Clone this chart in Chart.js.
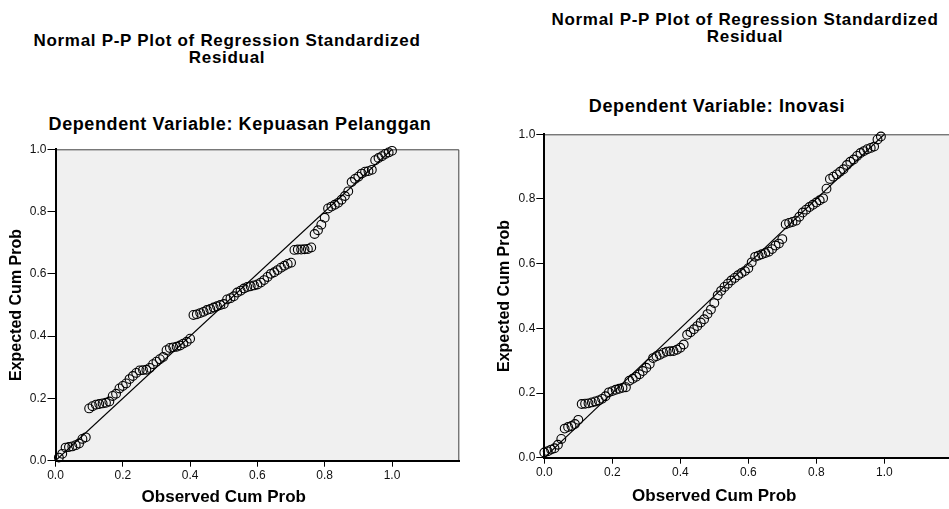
<!DOCTYPE html>
<html>
<head>
<meta charset="utf-8">
<script src="https://cdn.jsdelivr.net/npm/chart.js@4"></script>
<style>
  html, body { margin: 0; padding: 0; background: #fff; overflow: hidden; }
  body { width: 949px; height: 509px; position: relative; font-family: Arial, "Liberation Sans", sans-serif; }
  .title, .subtitle { position: absolute; text-align: center; font-weight: bold; color: #000; white-space: nowrap; }
  .title { font-size: 17px; line-height: 17px; letter-spacing: 0.7px; width: 460px; }
  .subtitle { font-size: 18px; line-height: 18px; letter-spacing: 0.6px; width: 460px; }
  canvas { position: absolute; top: 0; }
</style>
</head>
<body>
<div class="title" style="left:-3px; top:31.5px;">Normal P-P Plot of Regression Standardized<br>Residual</div>
<div class="subtitle" style="left:10px; top:115px;">Dependent Variable: Kepuasan Pelanggan</div>
<div class="title" style="left:515px; top:10.5px;">Normal P-P Plot of Regression Standardized<br>Residual</div>
<div class="subtitle" style="left:487px; top:97px;">Dependent Variable: Inovasi</div>

<canvas id="ppLeft" width="475" height="509" style="left:0px;"></canvas>
<canvas id="ppRight" width="490" height="509" style="left:475px;"></canvas>

<script>
// tick labels on both axes
const tickValues = [0, 0.2, 0.4, 0.6, 0.8, 1.0];

// Kepuasan Pelanggan : observed cum prob (x) / expected cum prob (y)
const obsLeft = [0.01, 0.02, 0.03, 0.04, 0.05, 0.06, 0.07, 0.08, 0.09, 0.10,
  0.11, 0.12, 0.13, 0.14, 0.15, 0.16, 0.17, 0.18, 0.19, 0.20,
  0.21, 0.22, 0.23, 0.24, 0.25, 0.26, 0.27, 0.28, 0.29, 0.30,
  0.31, 0.32, 0.33, 0.34, 0.35, 0.36, 0.37, 0.38, 0.39, 0.40,
  0.41, 0.42, 0.43, 0.44, 0.45, 0.46, 0.47, 0.48, 0.49, 0.50,
  0.51, 0.52, 0.53, 0.54, 0.55, 0.56, 0.57, 0.58, 0.59, 0.60,
  0.61, 0.62, 0.63, 0.64, 0.65, 0.66, 0.67, 0.68, 0.69, 0.70,
  0.71, 0.72, 0.73, 0.74, 0.75, 0.76, 0.77, 0.78, 0.79, 0.80,
  0.81, 0.82, 0.83, 0.84, 0.85, 0.86, 0.87, 0.88, 0.89, 0.90,
  0.91, 0.92, 0.93, 0.94, 0.95, 0.96, 0.97, 0.98, 0.99, 1.00];
const expLeft = [0.010, 0.022, 0.042, 0.044, 0.046, 0.050, 0.055, 0.070, 0.075, 0.168,
  0.175, 0.180, 0.182, 0.184, 0.186, 0.190, 0.208, 0.215, 0.232, 0.240,
  0.248, 0.262, 0.272, 0.282, 0.290, 0.291, 0.292, 0.298, 0.310, 0.318,
  0.326, 0.333, 0.355, 0.362, 0.364, 0.366, 0.370, 0.376, 0.382, 0.392,
  0.468, 0.470, 0.474, 0.478, 0.484, 0.487, 0.492, 0.496, 0.500, 0.503,
  0.518, 0.522, 0.528, 0.540, 0.546, 0.553, 0.558, 0.560, 0.563, 0.566,
  0.572, 0.580, 0.590, 0.600, 0.605, 0.612, 0.620, 0.626, 0.632, 0.636,
  0.677, 0.678, 0.678, 0.679, 0.680, 0.685, 0.728, 0.740, 0.758, 0.780,
  0.810, 0.816, 0.822, 0.828, 0.838, 0.850, 0.865, 0.895, 0.905, 0.912,
  0.922, 0.928, 0.930, 0.934, 0.965, 0.972, 0.978, 0.985, 0.990, 0.995];

// Inovasi
const obsRight = [0.00, 0.01, 0.02, 0.03, 0.04, 0.05, 0.06, 0.07, 0.08, 0.09,
  0.10, 0.11, 0.12, 0.13, 0.14, 0.15, 0.16, 0.17, 0.18, 0.19,
  0.20, 0.21, 0.22, 0.23, 0.24, 0.25, 0.26, 0.27, 0.28, 0.29,
  0.30, 0.31, 0.32, 0.33, 0.34, 0.35, 0.36, 0.37, 0.38, 0.39,
  0.40, 0.41, 0.42, 0.43, 0.44, 0.45, 0.46, 0.47, 0.48, 0.49,
  0.50, 0.51, 0.52, 0.53, 0.54, 0.55, 0.56, 0.57, 0.58, 0.59,
  0.60, 0.61, 0.62, 0.63, 0.64, 0.65, 0.66, 0.67, 0.68, 0.69,
  0.70, 0.71, 0.72, 0.73, 0.74, 0.75, 0.76, 0.77, 0.78, 0.79,
  0.80, 0.81, 0.82, 0.83, 0.84, 0.85, 0.86, 0.87, 0.88, 0.89,
  0.90, 0.91, 0.92, 0.93, 0.94, 0.95, 0.96, 0.97, 0.98, 0.99];
const expRight = [0.016, 0.020, 0.025, 0.029, 0.040, 0.058, 0.090, 0.095, 0.098, 0.104,
  0.117, 0.166, 0.167, 0.168, 0.171, 0.174, 0.177, 0.182, 0.190, 0.202,
  0.206, 0.210, 0.213, 0.216, 0.218, 0.238, 0.244, 0.250, 0.258, 0.268,
  0.278, 0.290, 0.308, 0.314, 0.318, 0.324, 0.328, 0.329, 0.330, 0.334,
  0.340, 0.350, 0.380, 0.388, 0.397, 0.407, 0.418, 0.428, 0.444, 0.458,
  0.478, 0.502, 0.516, 0.528, 0.538, 0.548, 0.556, 0.564, 0.571, 0.577,
  0.586, 0.604, 0.621, 0.625, 0.629, 0.633, 0.637, 0.645, 0.656, 0.662,
  0.676, 0.722, 0.726, 0.729, 0.733, 0.745, 0.758, 0.767, 0.775, 0.782,
  0.789, 0.796, 0.802, 0.832, 0.862, 0.869, 0.876, 0.884, 0.892, 0.905,
  0.915, 0.922, 0.933, 0.942, 0.948, 0.954, 0.958, 0.962, 0.984, 0.993];

const FONT = "Arial, 'Liberation Sans', sans-serif";

// grey plot background + thin frame on top and right
const plotFrame = {
  id: "plotFrame",
  beforeDraw(chart) {
    const a = chart.chartArea, ctx = chart.ctx;
    ctx.save();
    ctx.fillStyle = "#f0f0f0";
    ctx.fillRect(a.left, a.top, a.right - a.left, a.bottom - a.top);
    ctx.strokeStyle = "#444";
    ctx.lineWidth = 1;
    ctx.beginPath();
    ctx.moveTo(a.left, a.top + 0.5);
    ctx.lineTo(a.right - 0.5, a.top + 0.5);
    ctx.lineTo(a.right - 0.5, a.bottom);
    ctx.stroke();
    ctx.restore();
  },
  // SPSS centres the x title under 0.5, not under the whole axis
  afterDraw(chart, args, opts) {
    const ctx = chart.ctx;
    ctx.save();
    ctx.font = "bold 17px " + FONT;
    ctx.fillStyle = "#000";
    ctx.textAlign = "center";
    ctx.textBaseline = "middle";
    ctx.fillText(opts.xTitle, chart.scales.x.getPixelForValue(0.5), opts.xTitleY);
    ctx.restore();
  }
};

function makeChart(id, obs, exp, geo) {
  const pts = obs.map((x, i) => ({ x: x, y: exp[i] }));
  return new Chart(document.getElementById(id), {
    type: "scatter",
    data: {
      datasets: [
        {
          data: [{ x: 0, y: 0 }, { x: 1, y: 1 }],
          showLine: true,
          borderColor: "#000",
          borderWidth: 1.2,
          pointRadius: 0
        },
        {
          data: pts,
          pointStyle: "circle",
          pointRadius: 4.4,
          pointBorderWidth: 1.1,
          pointBorderColor: "#000",
          pointBackgroundColor: "rgba(0,0,0,0)",
          clip: false
        }
      ]
    },
    options: {
      responsive: false,
      animation: false,
      devicePixelRatio: 1,
      layout: { padding: { top: geo.top, right: geo.right, left: 0, bottom: 0 } },
      plugins: {
        legend: { display: false },
        tooltip: { enabled: false },
        plotFrame: { xTitle: "Observed Cum Prob", xTitleY: geo.xTitleY }
      },
      scales: {
        x: {
          type: "linear",
          min: 0,
          max: 1.2,
          afterBuildTicks: s => { s.ticks = tickValues.map(v => ({ value: v })); },
          afterFit: s => { s.height = geo.xHeight; },
          border: { color: "#000", width: 2 },
          grid: { drawOnChartArea: false, drawTicks: true, tickLength: 6, tickColor: "#000" },
          ticks: { color: "#111", padding: 2, font: { family: FONT, size: 12 }, callback: v => v.toFixed(1), maxRotation: 0 }
        },
        y: {
          type: "linear",
          min: 0,
          max: 1,
          afterBuildTicks: s => { s.ticks = tickValues.map(v => ({ value: v })); },
          afterFit: s => { s.width = geo.yWidth; },
          border: { color: "#000", width: 2 },
          grid: { drawOnChartArea: false, drawTicks: true, tickLength: 8, tickColor: "#000" },
          ticks: { color: "#111", padding: 1, font: { family: FONT, size: 12 }, callback: v => v.toFixed(1) },
          title: {
            display: true,
            text: "Expected Cum Prob",
            color: "#000",
            font: { family: FONT, size: 16, weight: "bold", lineHeight: 1.2 },
            padding: { top: geo.yTitlePad, bottom: 0 }
          }
        }
      }
    },
    plugins: [plotFrame]
  });
}

makeChart("ppLeft", obsLeft, expLeft, { top: 149.3, right: 15.7, xHeight: 48.3, yWidth: 55.5, yTitlePad: 7.4, xTitleY: 497 });
makeChart("ppRight", obsRight, expRight, { top: 134.3, right: 12.7, xHeight: 51.3, yWidth: 69.3, yTitlePad: 20.4, xTitleY: 496 });
</script>
</body>
</html>
